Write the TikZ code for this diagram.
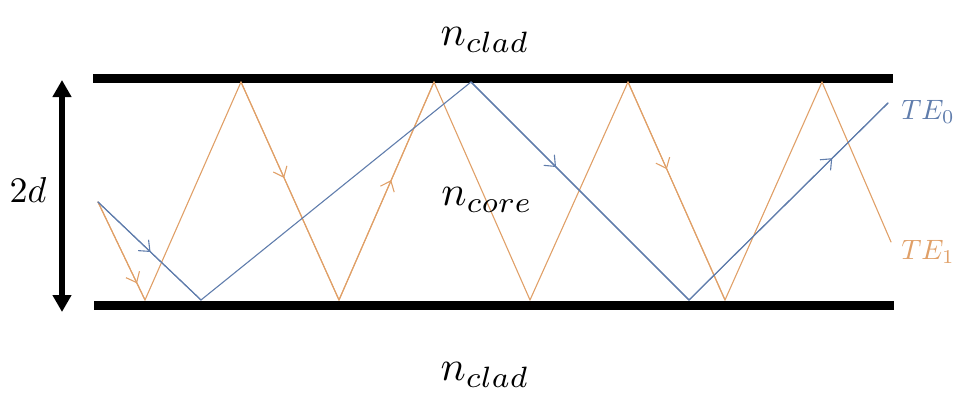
\documentclass[tikz,border=0pt]{standalone}
\usetikzlibrary{arrows.meta,decorations.markings}
\definecolor{teblue}{RGB}{96,125,172}
\definecolor{teorange}{RGB}{224,160,104}
\tikzset{
  bar/.style={line width=9pt},
  ray/.style={line width=1.1pt,line cap=round},
  raymark/.style={postaction={decorate},decoration={markings,
    mark=at position #1 with {\arrow{Straight Barb[length=9pt,width=15pt,line width=1.1pt]}}}},
  lbl/.style={inner sep=0pt,scale=4.2},
  tel/.style={inner sep=0pt,scale=2.8}
}
\begin{document}
\begin{tikzpicture}[x=1pt,y=-1pt]
  \useasboundingbox (0,0) rectangle (957,396);
  \coordinate (tl) at (93,78);
  \coordinate (tr) at (893,78);
  \coordinate (bl) at (94,305);
  \coordinate (br) at (894,305);
  \draw[bar] (tl)--(tr);
  \draw[bar] (bl)--(br);
  \coordinate (at) at (62,80);
  \coordinate (ab) at (62,312);
  \draw[line width=6pt,{Triangle[length=17pt,width=18pt]}-{Triangle[length=17pt,width=18pt]}] (at)--(ab);
  \coordinate (o0) at (98,202);
  \coordinate (o1) at (145,300);
  \coordinate (o2) at (241,82);
  \coordinate (o3) at (339,300);
  \coordinate (o4) at (434,82);
  \coordinate (o5) at (530,300);
  \coordinate (o6) at (628,82);
  \coordinate (o7) at (725,300);
  \coordinate (o8) at (822,82);
  \coordinate (o9) at (891,242);
  \coordinate (b0) at (98,202);
  \coordinate (b1) at (201,300);
  \coordinate (b2) at (471,82);
  \coordinate (b3) at (689,300);
  \coordinate (b4) at (888,103);
  \foreach \a/\b in {o0/o1,o1/o2,o2/o3,o3/o4,o4/o5,o5/o6,o6/o7,o7/o8,o8/o9}
    \draw[ray,teorange] (\a)--(\b);
  \foreach \a/\b/\p in {o0/o1/0.83,o2/o3/0.44,o3/o4/0.55,o6/o7/0.40}
    \draw[ray,teorange,raymark=\p] (\a)--(\b);
  \foreach \a/\b in {b0/b1,b1/b2,b2/b3,b3/b4}
    \draw[ray,teblue] (\a)--(\b);
  \foreach \a/\b/\p in {b0/b1/0.51,b2/b3/0.39,b3/b4/0.72}
    \draw[ray,teblue,raymark=\p] (\a)--(\b);
  \node[lbl] (cladtop) at (485,40) {$n_{clad}$};
  \node[lbl] (cladbot) at (485,375) {$n_{clad}$};
  \node[lbl] (core) at (487,200) {$n_{core}$};
  \node[inner sep=0pt,scale=3.6] (thick) at (28,190) {$2d$};
  \node[tel,teblue] (te0) at (928,112) {$TE_0$};
  \node[tel,teorange] (te1) at (928,252) {$TE_1$};
\end{tikzpicture}
\end{document}
